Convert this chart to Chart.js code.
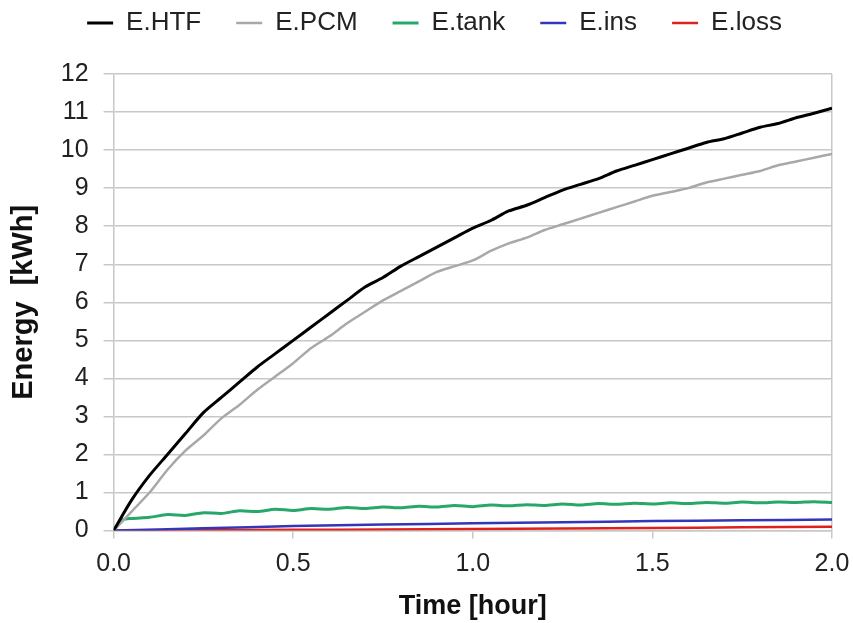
<!DOCTYPE html>
<html>
<head>
<meta charset="utf-8">
<script src="https://cdn.jsdelivr.net/npm/chart.js"></script>
<style>
  html, body { margin: 0; padding: 0; background: #fff; }
  #wrap { width: 853px; height: 623px; }
</style>
</head>
<body>
<div id="wrap"><canvas id="c" width="853" height="623"></canvas></div>
<script>
// time axis (hours) for the two big curves
var tMain = [0, 0.05, 0.10, 0.15, 0.20, 0.25, 0.30, 0.35, 0.40, 0.45, 0.50, 0.55, 0.60, 0.65, 0.70, 0.75, 0.80, 0.85, 0.90, 0.95, 1.00,
  1.05, 1.10, 1.15, 1.20, 1.25, 1.30, 1.35, 1.40, 1.45, 1.50, 1.55, 1.60, 1.65, 1.70, 1.75, 1.80, 1.85, 1.90, 1.95, 2.00];
var eHTF = [0, 0.8, 1.45, 2.0, 2.55, 3.1, 3.5, 3.9, 4.3, 4.65, 5.0, 5.35, 5.7, 6.05, 6.4, 6.65, 6.95, 7.2, 7.45, 7.7, 7.95,
  8.15, 8.4, 8.55, 8.75, 8.95, 9.1, 9.25, 9.45, 9.6, 9.75, 9.9, 10.05, 10.2, 10.3, 10.45, 10.6, 10.7, 10.85, 10.97, 11.1];
var ePCM = [0, 0.5, 1.0, 1.6, 2.1, 2.5, 2.95, 3.3, 3.7, 4.05, 4.4, 4.8, 5.1, 5.45, 5.75, 6.05, 6.3, 6.55, 6.8, 6.95, 7.1,
  7.35, 7.55, 7.7, 7.9, 8.05, 8.2, 8.35, 8.5, 8.65, 8.8, 8.9, 9.0, 9.15, 9.25, 9.35, 9.45, 9.6, 9.7, 9.8, 9.9];

// tank curve has its own time points (early jump)
var tTank = [0, 0.025, 0.05, 0.10, 0.15, 0.20, 0.25, 0.30, 0.35, 0.40, 0.45, 0.50, 0.55, 0.60, 0.65, 0.70, 0.75, 0.80, 0.85, 0.90, 0.95, 1.00,
  1.05, 1.10, 1.15, 1.20, 1.25, 1.30, 1.35, 1.40, 1.45, 1.50, 1.55, 1.60, 1.65, 1.70, 1.75, 1.80, 1.85, 1.90, 1.95, 2.00];
var eTank = [0, 0.28, 0.32, 0.35, 0.42, 0.40, 0.47, 0.45, 0.52, 0.50, 0.56, 0.53, 0.58, 0.56, 0.61, 0.58, 0.62, 0.60, 0.64, 0.62, 0.66, 0.63,
  0.67, 0.65, 0.68, 0.66, 0.70, 0.67, 0.71, 0.69, 0.72, 0.70, 0.73, 0.71, 0.74, 0.72, 0.75, 0.73, 0.75, 0.74, 0.76, 0.74];

var tSmall = [0, 0.25, 0.50, 0.75, 1.00, 1.25, 1.50, 1.75, 2.00];
var eIns  = [0, 0.06, 0.12, 0.16, 0.19, 0.22, 0.25, 0.27, 0.29];
var eLoss = [0, 0.01, 0.02, 0.03, 0.04, 0.055, 0.07, 0.085, 0.10];

var yTicks = [0, 1, 2, 3, 4, 5, 6, 7, 8, 9, 10, 11, 12];
var xTicks = [0.0, 0.5, 1.0, 1.5, 2.0];

function pts(ts, vs) {
  var out = [];
  for (var i = 0; i < ts.length; i++) out.push({ x: ts[i], y: vs[i] });
  return out;
}

var FONT = "'Liberation Sans', Arial, sans-serif";
var GRID = '#c8c8c8';

function series(label, ts, vs, color, w) {
  return {
    label: label,
    data: pts(ts, vs),
    borderColor: color,
    backgroundColor: color,
    borderWidth: w,
    pointRadius: 0,
    tension: 0.25,
    fill: false
  };
}

// legend: fixed height and a small shift to the right
var legendTweak = {
  id: 'legendTweak',
  beforeInit: function (chart) {
    var lg = chart.legend;
    var fit = lg.fit;
    lg.fit = function () {
      fit.apply(this, arguments);
      this.height = 99;
    };
    var draw = lg.draw;
    lg.draw = function () {
      var ctx = this.ctx;
      ctx.save();
      ctx.translate(12, 0);
      draw.apply(this, arguments);
      ctx.restore();
    };
  }
};

new Chart(document.getElementById('c').getContext('2d'), {
  type: 'line',
  data: {
    datasets: [
      series('E.HTF', tMain, eHTF, '#000000', 3),
      series('E.PCM', tMain, ePCM, '#a8a8a8', 2.5),
      series('E.tank', tTank, eTank, '#27a86a', 3),
      series('E.ins', tSmall, eIns, '#3535b8', 2.5),
      series('E.loss', tSmall, eLoss, '#e0201c', 2.5)
    ]
  },
  plugins: [legendTweak],
  options: {
    responsive: false,
    animation: false,
    layout: { padding: { left: 4, right: 12, top: -25, bottom: 0 } },
    plugins: {
      tooltip: { enabled: false },
      legend: {
        position: 'top',
        labels: {
          usePointStyle: true,
          pointStyle: 'line',
          pointStyleWidth: 26,
          padding: 35,
          color: '#222',
          font: { family: FONT, size: 26 }
        }
      }
    },
    scales: {
      x: {
        type: 'linear',
        min: 0,
        max: 2,
        afterBuildTicks: function (axis) {
          axis.ticks = xTicks.map(function (v) { return { value: v }; });
        },
        afterFit: function (axis) {
          axis.paddingRight = 21;
        },
        ticks: {
          color: '#222',
          font: { family: FONT, size: 25 },
          padding: 11,
          callback: function (v) { return Number(v).toFixed(1); }
        },
        grid: {
          color: function (ctx) { return ctx.tick && ctx.tick.value === 2 ? GRID : 'rgba(0,0,0,0)'; },
          tickColor: GRID,
          tickLength: 8,
          lineWidth: 1.5
        },
        border: { color: GRID, width: 1.5 },
        title: {
          display: true,
          text: 'Time [hour]',
          color: '#111',
          font: { family: FONT, size: 27, weight: 'bold' },
          padding: { top: 0, bottom: 0 }
        }
      },
      y: {
        min: 0,
        max: 12,
        afterBuildTicks: function (axis) {
          axis.ticks = yTicks.map(function (v) { return { value: v }; });
        },
        ticks: {
          color: '#222',
          font: { family: FONT, size: 25 },
          padding: 15
        },
        grid: {
          color: GRID,
          tickLength: 10,
          lineWidth: 1.5
        },
        border: { color: GRID, width: 1.5 },
        title: {
          display: true,
          text: 'Energy  [kWh]',
          color: '#111',
          font: { family: FONT, size: 29, weight: 'bold' },
          padding: { top: 3, bottom: 4 }
        }
      }
    }
  }
});
</script>
</body>
</html>
